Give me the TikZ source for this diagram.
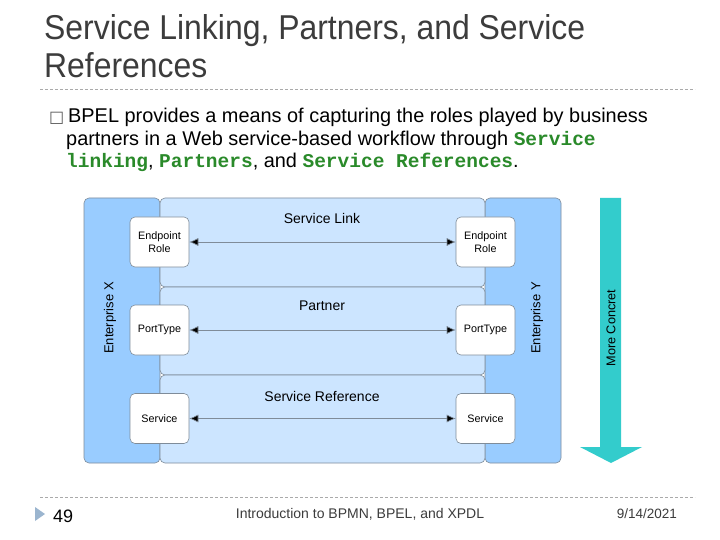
\documentclass[tikz,border=0pt]{standalone}
\usepackage{fontspec}
\setmainfont{Liberation Sans}
\setmonofont{Liberation Mono}
\newfontfamily\symfont{DejaVu Sans}
\usetikzlibrary{arrows.meta}
\definecolor{titlegray}{HTML}{3C3C3C}
\definecolor{codegreen}{HTML}{2A8A2A}
\definecolor{entblue}{HTML}{99CCFF}
\definecolor{bandblue}{HTML}{CCE5FF}
\definecolor{edgegray}{HTML}{7F8C99}
\definecolor{teal}{HTML}{33CCCC}
\definecolor{footblue}{HTML}{9BB5CF}
\definecolor{dashgray}{HTML}{AAAAAA}
\newcommand{\code}[1]{{\ttfamily\bfseries\fontsize{19.5}{22}\selectfont\color{codegreen}#1}}
\begin{document}
\begin{tikzpicture}[x=1pt,y=-1pt,
  entbox/.style={draw=edgegray,fill=entblue,rounded corners=5pt,line width=0.6pt},
  bandbox/.style={draw=edgegray,fill=bandblue,rounded corners=5pt,line width=0.6pt},
  rolebox/.style={draw=edgegray,fill=white,rounded corners=5pt,line width=0.6pt,minimum width=59pt,minimum height=50pt,inner sep=1pt,align=center,font=\fontsize{10.8}{12.5}\selectfont},
  bandlabel/.style={font=\fontsize{14}{16}\selectfont},
  entlabel/.style={font=\fontsize{13}{15}\selectfont,rotate=90},
  link/.style={{Latex[length=9pt,width=8pt,fill=black]}-{Latex[length=9pt,width=8pt,fill=black]},draw=edgegray,line width=0.6pt},
  sep/.style={draw=dashgray,dashed,dash pattern=on 3pt off 2pt,line width=0.6pt},
  titletext/.style={anchor=base west,text=titlegray,font=\fontsize{34.5}{38}\selectfont,inner sep=0,xscale=0.925},
  bodytext/.style={anchor=base west,inner sep=0,font=\fontsize{19.9}{22}\selectfont}
]
\useasboundingbox (0,0) rectangle (720,540);
\fill[white] (0,0) rectangle (720,540);
% title
\node[titletext] (t1) at (44,40) {Service Linking, Partners, and Service};
\node[titletext] (t2) at (44,78) {References};
\draw[sep] (40,89) -- (695,89);
% bullet text
\node[anchor=base west,inner sep=0,font=\symfont\fontsize{16}{18}\selectfont,text=black!65] (bul) at (49,123) {□};
\node[bodytext] (l1) at (68,123) {BPEL provides a means of capturing the roles played by business};
\node[bodytext] (l2) at (66,146) {partners in a Web service-based workflow through \code{Service}};
\node[bodytext] (l3) at (66,168) {\code{linking}, \code{Partners}, and \code{Service References}.};
% enterprises
\draw[entbox] (84,198) rectangle (160,463);
\draw[entbox] (485,198) rectangle (561,463);
% bands
\draw[bandbox] (160,198) rectangle (485,287);
\draw[bandbox] (160,287) rectangle (485,375);
\draw[bandbox] (160,375) rectangle (485,463);
\node[bandlabel] (sl) at (322,218) {Service Link};
\node[bandlabel] (pa) at (322,306) {Partner};
\node[bandlabel] (sr) at (322,396) {Service Reference};
\node[entlabel] (ex) at (110,318) {Enterprise X};
\node[entlabel] (ey) at (537,318) {Enterprise Y};
% role boxes
\node[rolebox] (er1) at (159.5,242) {Endpoint\\Role};
\node[rolebox] (er2) at (485.5,242) {Endpoint\\Role};
\node[rolebox] (pt1) at (159.5,330) {PortType};
\node[rolebox] (pt2) at (485.5,330) {PortType};
\node[rolebox] (sv1) at (159.5,418.5) {Service};
\node[rolebox] (sv2) at (485.5,418.5) {Service};
\draw[link] (er1) -- (er2);
\draw[link] (pt1) -- (pt2);
\draw[link] (sv1) -- (sv2);
% more concrete arrow
\fill[teal] (600,198) -- (621,198) -- (621,447) -- (642,447) -- (611,463) -- (580,447) -- (600,447) -- cycle;
\node[rotate=90,font=\fontsize{12.7}{15}\selectfont] (mc) at (611,328) {More Concret};
% footer
\draw[sep] (40,497) -- (695,497);
\fill[footblue] (35,507) -- (45,514) -- (35,521) -- cycle;
\node[anchor=base west,inner sep=0,font=\fontsize{18}{20}\selectfont] (pg) at (53,522) {49};
\node[anchor=base,inner sep=0,text=titlegray,font=\fontsize{14}{16}\selectfont] (ft) at (360,518) {Introduction to BPMN, BPEL, and XPDL};
\node[anchor=base east,inner sep=0,text=titlegray,font=\fontsize{13.5}{15}\selectfont] (dt) at (677,518) {9/14/2021};
\end{tikzpicture}
\end{document}
